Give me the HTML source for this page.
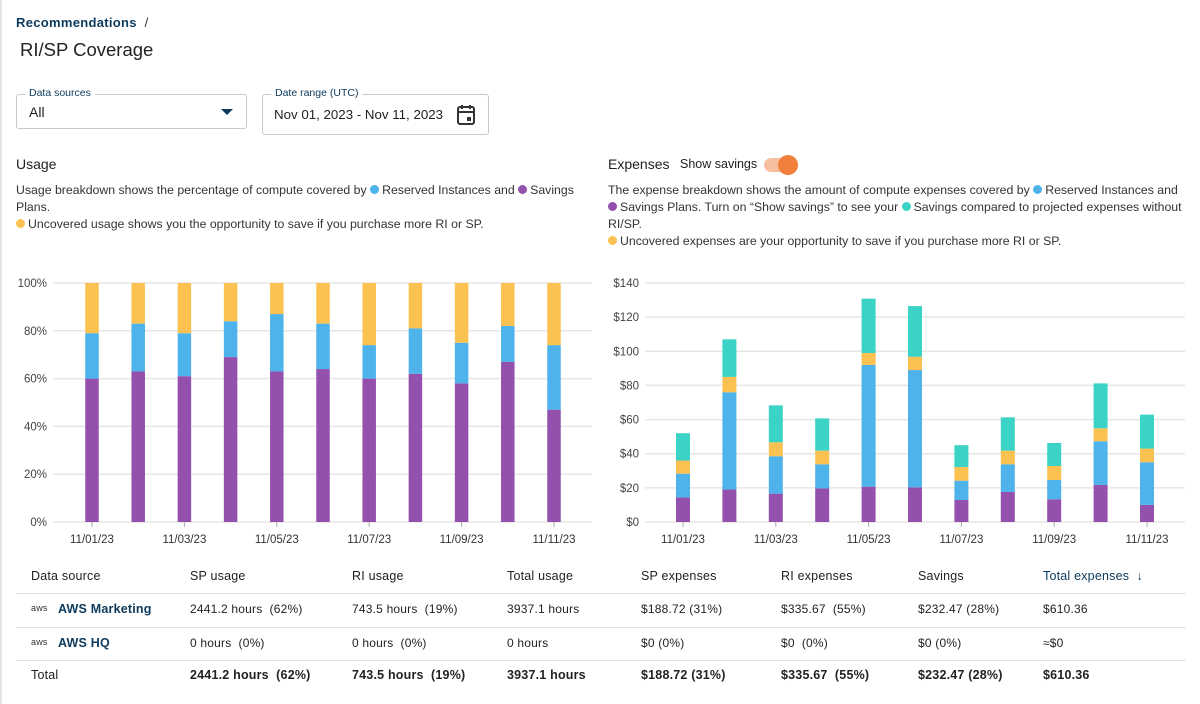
<!DOCTYPE html>
<html><head><meta charset="utf-8">
<style>
body{margin:0;width:1200px;height:704px;background:#fff;font-family:"Liberation Sans",sans-serif;color:#222;position:relative;overflow:hidden}
.abs{position:absolute;white-space:nowrap}
.dot{display:inline-block;width:9px;height:9px;border-radius:50%;vertical-align:0px;margin-right:3px}
.fld{position:absolute;border:1px solid #c8c8c8;border-radius:3px;height:33px}
.fld .lb{position:absolute;top:-8px;left:8px;background:#fff;padding:0 4px;font-size:10.5px;color:#0d3a5c}
.desc{font-size:12.3px;line-height:17px;color:#333;position:absolute}
</style></head><body>
<div class="abs" style="left:0;top:0;width:2px;height:704px;background:#e4e4e4"></div>
<div class="abs" style="left:16px;top:15px;font-size:13px;font-weight:bold;color:#0d3a5c;letter-spacing:.3px">Recommendations <span style="color:#333;font-weight:normal">&nbsp;/</span></div>
<div class="abs" style="left:20px;top:39px;font-size:18.5px;color:#222">RI/SP Coverage</div>

<div class="fld" style="left:16px;top:94px;width:229px">
<span class="lb">Data sources</span>
<span class="abs" style="left:12px;top:9px;font-size:14px">All</span>
<span class="abs" style="left:204px;top:14px;width:0;height:0;border-left:6px solid transparent;border-right:6px solid transparent;border-top:6px solid #0d3a5c"></span>
</div>
<div class="fld" style="left:262px;top:94px;width:225px;height:39px">
<span class="lb">Date range (UTC)</span>
<span class="abs" style="left:11px;top:12px;font-size:13.3px">Nov 01, 2023 - Nov 11, 2023</span>
<svg class="abs" style="left:193px;top:9px" width="20" height="22" viewBox="0 0 20 22"><rect x="2" y="3" width="16" height="17" rx="2" fill="none" stroke="#333" stroke-width="2"/><line x1="2" y1="8" x2="18" y2="8" stroke="#333" stroke-width="2"/><line x1="6" y1="1" x2="6" y2="5" stroke="#333" stroke-width="2"/><line x1="14" y1="1" x2="14" y2="5" stroke="#333" stroke-width="2"/><rect x="11" y="13" width="4" height="4" fill="#333"/></svg>
</div>

<div class="abs" style="left:16px;top:156px;font-size:14px">Usage</div>
<div class="desc" style="left:16px;top:182px;width:580px">Usage breakdown shows the percentage of compute covered by <span class="dot" style="background:#4db3ea"></span>Reserved Instances and <span class="dot" style="background:#9450ad"></span>Savings Plans.<br><span class="dot" style="background:#fcc251"></span>Uncovered usage shows you the opportunity to save if you purchase more RI or SP.</div>

<div class="abs" style="left:608px;top:156px;font-size:14px">Expenses</div>
<div class="abs" style="left:680px;top:157px;font-size:12.5px">Show savings</div>
<div class="abs" style="left:764px;top:158px;width:32px;height:14px;border-radius:7px;background:#f6bf9f"><div class="abs" style="left:14px;top:-3px;width:20px;height:20px;border-radius:50%;background:#f0803c"></div></div>
<div class="desc" style="left:608px;top:182px;width:590px">The expense breakdown shows the amount of compute expenses covered by <span class="dot" style="background:#4db3ea"></span>Reserved Instances and<br><span class="dot" style="background:#9450ad"></span>Savings Plans. Turn on “Show savings” to see your <span class="dot" style="background:#3ad3c5"></span>Savings compared to projected expenses without RI/SP.<br><span class="dot" style="background:#fcc251"></span>Uncovered expenses are your opportunity to save if you purchase more RI or SP.</div>

<svg class="abs" id="chart1" style="left:0;top:260px" width="600" height="300"></svg>
<svg class="abs" id="chart2" style="left:600px;top:260px" width="600" height="300"></svg>

<div class="abs" style="left:16px;top:593px;width:1170px;height:1px;background:#e2e2e2"></div>
<div class="abs" style="left:16px;top:627px;width:1170px;height:1px;background:#e2e2e2"></div>
<div class="abs" style="left:16px;top:660px;width:1170px;height:1px;background:#e2e2e2"></div>
<div style="font-size:12.5px;letter-spacing:.2px">
<div class="abs" style="left:31px;top:569px">Data source</div>
<div class="abs" style="left:190px;top:569px">SP usage</div>
<div class="abs" style="left:352px;top:569px">RI usage</div>
<div class="abs" style="left:507px;top:569px">Total usage</div>
<div class="abs" style="left:641px;top:569px">SP expenses</div>
<div class="abs" style="left:781px;top:569px">RI expenses</div>
<div class="abs" style="left:918px;top:569px">Savings</div>
<div class="abs" style="left:1043px;top:569px;color:#0d3a5c">Total expenses &nbsp;<b>↓</b></div>

<div class="abs" style="left:31px;top:603px;font-size:9px;color:#333">aws</div>
<div class="abs" style="left:58px;top:602px;font-weight:bold;color:#0d3a5c">AWS Marketing</div>
<div class="abs" style="left:190px;top:602px;font-size:12px">2441.2 hours &nbsp;(62%)</div>
<div class="abs" style="left:352px;top:602px;font-size:12px">743.5 hours &nbsp;(19%)</div>
<div class="abs" style="left:507px;top:602px;font-size:12px">3937.1 hours</div>
<div class="abs" style="left:641px;top:602px;font-size:12px">$188.72 (31%)</div>
<div class="abs" style="left:781px;top:602px;font-size:12px">$335.67 &nbsp;(55%)</div>
<div class="abs" style="left:918px;top:602px;font-size:12px">$232.47 (28%)</div>
<div class="abs" style="left:1043px;top:602px;font-size:12px">$610.36</div>

<div class="abs" style="left:31px;top:637px;font-size:9px;color:#333">aws</div>
<div class="abs" style="left:58px;top:636px;font-weight:bold;color:#0d3a5c">AWS HQ</div>
<div class="abs" style="left:190px;top:636px;font-size:12px">0 hours &nbsp;(0%)</div>
<div class="abs" style="left:352px;top:636px;font-size:12px">0 hours &nbsp;(0%)</div>
<div class="abs" style="left:507px;top:636px;font-size:12px">0 hours</div>
<div class="abs" style="left:641px;top:636px;font-size:12px">$0 (0%)</div>
<div class="abs" style="left:781px;top:636px;font-size:12px">$0 &nbsp;(0%)</div>
<div class="abs" style="left:918px;top:636px;font-size:12px">$0 (0%)</div>
<div class="abs" style="left:1043px;top:636px;font-size:12px">≈$0</div>

<div class="abs" style="left:31px;top:668px">Total</div>
<div class="abs" style="left:190px;top:668px;font-weight:bold">2441.2 hours &nbsp;(62%)</div>
<div class="abs" style="left:352px;top:668px;font-weight:bold">743.5 hours &nbsp;(19%)</div>
<div class="abs" style="left:507px;top:668px;font-weight:bold">3937.1 hours</div>
<div class="abs" style="left:641px;top:668px;font-weight:bold">$188.72 (31%)</div>
<div class="abs" style="left:781px;top:668px;font-weight:bold">$335.67 &nbsp;(55%)</div>
<div class="abs" style="left:918px;top:668px;font-weight:bold">$232.47 (28%)</div>
<div class="abs" style="left:1043px;top:668px;font-weight:bold">$610.36</div>
</div>

<script>
const dates = ["11/01/23","11/02/23","11/03/23","11/04/23","11/05/23","11/06/23","11/07/23","11/08/23","11/09/23","11/10/23","11/11/23"];
const usageSP = [60,63,61,69,63,64,60,62,58,67,47];
const usageRI = [19,20,18,15,24,19,14,19,17,15,27];
const usageUncovered = [21,17,21,16,13,17,26,19,25,18,26];
const usageTicks = ["0%","20%","40%","60%","80%","100%"];
const usageTickValues = [0,20,40,60,80,100];
const expSP = [14.4,19,16.6,19.7,20.7,20.3,12.9,17.6,13.3,21.7,10];
const expRI = [13.9,57,21.9,14.1,71.3,68.7,11.3,16.2,11.3,25.6,25];
const expUncovered = [7.7,9,8.2,8,7,7.8,8,8,8.2,7.6,8];
const expSavings = [16,22,21.6,18.9,31.8,29.7,12.8,19.5,13.5,26.3,19.9];
const expTicks = ["$0","$20","$40","$60","$80","$100","$120","$140"];
const expTickValues = [0,20,40,60,80,100,120,140];

const NS="http://www.w3.org/2000/svg";
function mk(svg,tag,attrs){const e=document.createElementNS(NS,tag);for(const k in attrs)e.setAttribute(k,attrs[k]);svg.appendChild(e);return e;}
const C={sp:"#9450ad",ri:"#4db3ea",un:"#fcc251",sv:"#3ad3c5"};

function drawChart(svg,opts){
  const y0=262,y1=23;
  const yS=v=>y0-(v/opts.max)*(y0-y1);
  const xS=i=>opts.x0+i*opts.step;
  opts.tickValues.forEach((v,i)=>{
    const g=mk(svg,"line",{x1:opts.gl,x2:opts.gr,y1:yS(v),y2:yS(v),stroke:"#e6e6e6","stroke-width":1.5});
    
    
    const t=mk(svg,"text",{x:opts.gl-6,y:yS(v)+4,"text-anchor":"end","font-size":"11.5","fill":"#444","font-family":"Liberation Sans, sans-serif"});
    t.textContent=opts.ticks[i];
    
    
  });
  dates.forEach((d,i)=>{
    let acc=0;
    opts.series.forEach(s=>{
      const v=s.data[i];
      const r=mk(svg,"rect",{x:xS(i)-opts.bw/2,y:yS(acc+v),width:opts.bw,height:yS(acc)-yS(acc+v),fill:s.color});
      
      
      acc+=v;
    });
    if(i%2===0){
      mk(svg,"line",{x1:xS(i),x2:xS(i),y1:y0,y2:y0+5,stroke:"#aaa"});
      const t=mk(svg,"text",{x:xS(i),y:y0+21,"text-anchor":"middle","font-size":"11.5","fill":"#333","font-family":"Liberation Sans, sans-serif"});
      t.textContent=d;
      
      
    }
  });
}
drawChart(document.getElementById("chart1"),{max:100,ticks:usageTicks,tickValues:usageTickValues,gl:53,gr:592,x0:92,step:46.2,bw:13.5,
  series:[{name:"sp",data:usageSP,color:C.sp},{name:"ri",data:usageRI,color:C.ri},{name:"uncovered",data:usageUncovered,color:C.un}]});
drawChart(document.getElementById("chart2"),{max:140,ticks:expTicks,tickValues:expTickValues,gl:45,gr:585,x0:83,step:46.4,bw:14,
  series:[{name:"sp",data:expSP,color:C.sp},{name:"ri",data:expRI,color:C.ri},{name:"uncovered",data:expUncovered,color:C.un},{name:"savings",data:expSavings,color:C.sv}]});
</script>
</body></html>
